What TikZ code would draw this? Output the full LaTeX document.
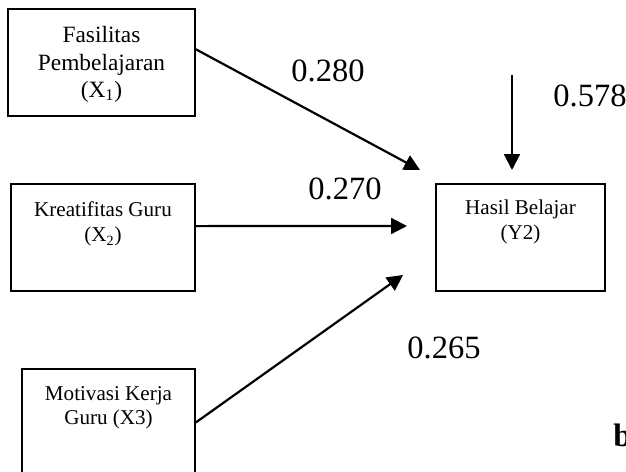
\documentclass[tikz,border=0pt]{standalone}
\usepackage{fontspec}
\setmainfont{Liberation Serif}
\usetikzlibrary{arrows.meta}

\tikzset{
  varbox/.style={draw, line width=0.9pt, inner sep=0pt},
  pathline/.style={line width=1.25pt, -{Triangle[length=9pt,width=9pt]}},
  coef/.style={font=\fontsize{18.5}{20}\selectfont, inner sep=0pt},
}
% text in a box, from the top down
\newcommand{\boxtext}[4]{\parbox[c][2.14cm][t]{#1}{\centering#2\rule{0pt}{#3}#4}}

\begin{document}
\begin{tikzpicture}[x=0.02cm, y=-0.02cm]
  \useasboundingbox (0,0) rectangle (626,472);

  % variabel
  \node[varbox] at (101.5, 62.5) (x1) {\boxtext{3.74cm}{\fontsize{13.3}{15.4}\selectfont}{0.68cm}{Fasilitas\\Pembelajaran\\(X\textsubscript{1})}};
  \node[varbox] at (103, 237.5) (x2) {\boxtext{3.68cm}{\fontsize{12}{14.2}\selectfont}{0.66cm}{Kreatifitas Guru\\(X\textsubscript{2})}};
  \node[varbox] at (108.5, 422.5) (x3) {\boxtext{3.46cm}{\fontsize{12}{14.2}\selectfont}{0.62cm}{Motivasi Kerja\\Guru (X3)}};
  \node[varbox] at (520.5, 237.5) (y2) {\boxtext{3.38cm}{\fontsize{12}{14.2}\selectfont}{0.62cm}{Hasil Belajar\\(Y2)}};

  % jalur
  \coordinate (t1) at (420, 170);
  \coordinate (t2) at (407, 226);
  \coordinate (t3) at (403, 275);
  \coordinate (e) at (512, 75);
  \draw[pathline] (x1.8) -- (t1);
  \draw[pathline] (x2.7) -- (t2);
  \draw[pathline] (x3.east) -- (t3);
  \draw[pathline] (e) -- (e |- t1);

  % koefisien
  \node[coef] at (328, 71) (c1) {0.280};
  \node[coef] at (345, 189) (c2) {0.270};
  \node[coef] at (444, 348) (c3) {0.265};
  \node[coef] at (590, 96) (ce) {0.578};
  \node[coef, anchor=base west] at (613, 447) (b) {\textbf{b}};
\end{tikzpicture}
\end{document}
